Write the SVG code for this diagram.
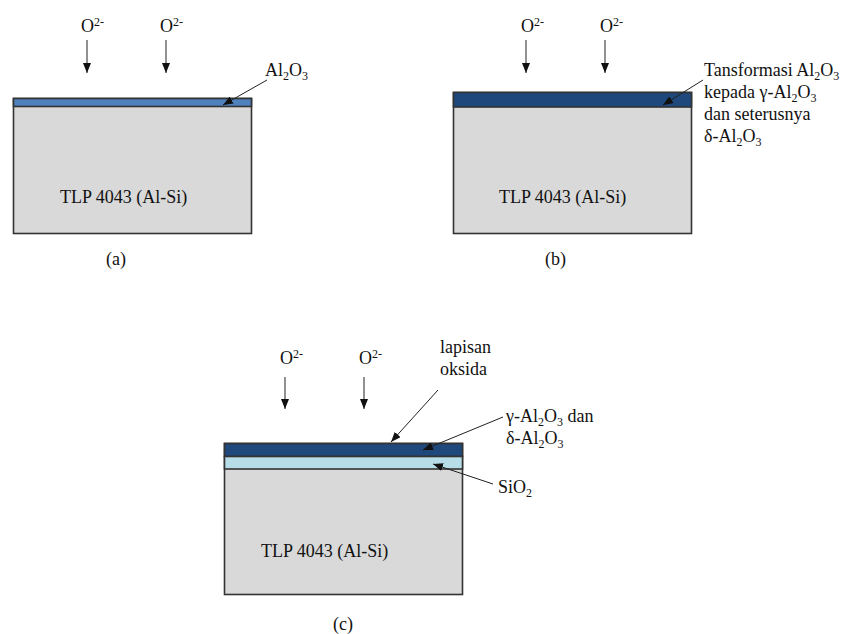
<svg xmlns="http://www.w3.org/2000/svg" width="843" height="634" viewBox="0 0 843 634" font-family="'Liberation Serif', 'DejaVu Serif', serif">
<style>
text{font-family:'Liberation Serif','DejaVu Serif',serif;font-size:18px;fill:#111}
.sub{font-size:12px}
.sup{font-size:12px}
.frame{stroke:#333;stroke-width:1.6}
.gray{fill:#d9d9d9}
.blue{fill:#4f81bd}
.dark{fill:#1f487c}
.light{fill:#b7dee8}
.ar{stroke:#222;stroke-width:1;fill:none;marker-end:url(#ah)}
</style>
<defs>
<marker id="ah" viewBox="0 0 10 8" refX="10" refY="4" markerWidth="10" markerHeight="8" markerUnits="userSpaceOnUse" orient="auto">
<path d="M0,0 L10,4 L0,8 Z" fill="#111"/>
</marker>
</defs>
<rect width="843" height="634" fill="#fff"/>

<g id="panel-a">
<rect class="gray frame" x="13.5" y="98.5" width="238" height="135"/>
<rect class="blue frame" x="13.5" y="98.5" width="238" height="8"/>
<text x="60" y="203">TLP 4043 (Al-Si)</text>
<text x="106" y="265">(a)</text>
<text x="81" y="32">O<tspan class="sup" dy="-6">2-</tspan></text>
<text x="160" y="32">O<tspan class="sup" dy="-6">2-</tspan></text>
<text x="265" y="76">Al<tspan class="sub" dy="4">2</tspan><tspan dy="-4">O</tspan><tspan class="sub" dy="4">3</tspan></text>
</g>

<g id="panel-b">
<rect class="gray frame" x="453.5" y="92.5" width="238" height="141"/>
<rect class="dark frame" x="453.5" y="92.5" width="238" height="14.5"/>
<text x="499" y="203">TLP 4043 (Al-Si)</text>
<text x="545" y="265">(b)</text>
<text x="521" y="32">O<tspan class="sup" dy="-6">2-</tspan></text>
<text x="600" y="32">O<tspan class="sup" dy="-6">2-</tspan></text>
<text x="704" y="76">Tansformasi Al<tspan class="sub" dy="4">2</tspan><tspan dy="-4">O</tspan><tspan class="sub" dy="4">3</tspan></text>
<text x="704" y="98">kepada γ-Al<tspan class="sub" dy="4">2</tspan><tspan dy="-4">O</tspan><tspan class="sub" dy="4">3</tspan></text>
<text x="704" y="120">dan seterusnya</text>
<text x="704" y="142">δ-Al<tspan class="sub" dy="4">2</tspan><tspan dy="-4">O</tspan><tspan class="sub" dy="4">3</tspan></text>
</g>

<g id="panel-c">
<rect class="gray frame" x="224.5" y="443.5" width="238" height="151"/>
<rect class="dark frame" x="224.5" y="443.5" width="238" height="13"/>
<rect class="light frame" x="224.5" y="456.5" width="238" height="12.5"/>
<text x="261" y="557">TLP 4043 (Al-Si)</text>
<text x="333" y="630">(c)</text>
<text x="280" y="364">O<tspan class="sup" dy="-6">2-</tspan></text>
<text x="359" y="364">O<tspan class="sup" dy="-6">2-</tspan></text>
<text x="440" y="353">lapisan</text>
<text x="440" y="375">oksida</text>
<text x="506" y="422">γ-Al<tspan class="sub" dy="4">2</tspan><tspan dy="-4">O</tspan><tspan class="sub" dy="4">3</tspan><tspan dy="-4"> dan</tspan></text>
<text x="506" y="444">δ-Al<tspan class="sub" dy="4">2</tspan><tspan dy="-4">O</tspan><tspan class="sub" dy="4">3</tspan></text>
<text x="498" y="493">SiO<tspan class="sub" dy="4">2</tspan></text>
</g>

<g id="connectors">
<line class="ar" x1="87" y1="40" x2="87" y2="73"/>
<line class="ar" x1="166" y1="40" x2="166" y2="73"/>
<line class="ar" x1="267" y1="80" x2="223" y2="105"/>
<line class="ar" x1="526" y1="40" x2="526" y2="73"/>
<line class="ar" x1="605" y1="40" x2="605" y2="73"/>
<line class="ar" x1="703" y1="80" x2="663" y2="105"/>
<line class="ar" x1="285" y1="377" x2="285" y2="409"/>
<line class="ar" x1="364" y1="377" x2="364" y2="409"/>
<line class="ar" x1="438" y1="390" x2="391" y2="442"/>
<line class="ar" x1="503" y1="417" x2="423" y2="450"/>
<line class="ar" x1="493" y1="484" x2="433" y2="464"/>
</g>
</svg>
